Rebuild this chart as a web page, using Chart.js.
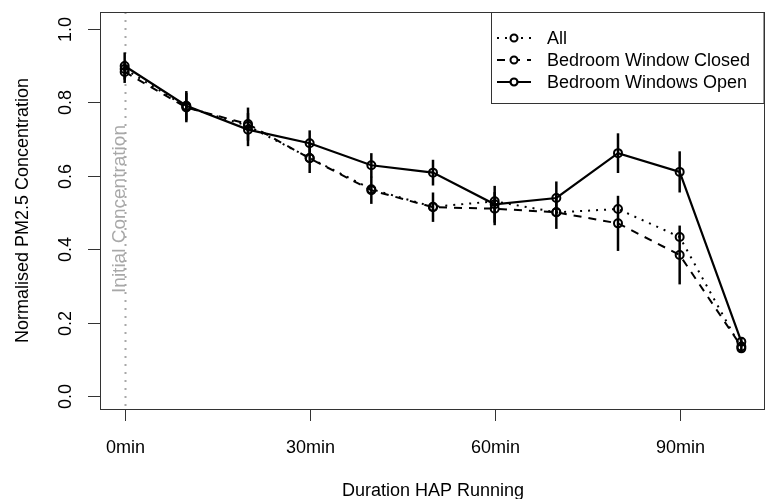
<!DOCTYPE html>
<html lang="en">
<head>
  <meta charset="UTF-8">
  <title>PM2.5 decay</title>
  <script src="https://cdn.jsdelivr.net/npm/chart.js"></script>
  <style>
    html, body { margin: 0; padding: 0; background: #fff; }
    #wrap { width: 766px; height: 499px; }
  </style>
</head>
<body>
  <div id="wrap"><canvas id="grafico" width="766" height="499"></canvas></div>

  <script>
    // minutes since the HAP was switched on
    const minutes = [0, 10, 20, 30, 40, 50, 60, 70, 80, 90, 100];

    const allValues    = [0.890, 0.787, 0.735, 0.648, 0.563, 0.515, 0.530, 0.500, 0.509, 0.433, 0.130];
    const closedValues = [0.882, 0.785, 0.740, 0.647, 0.560, 0.514, 0.510, 0.500, 0.470, 0.384, 0.135];
    const openValues   = [0.898, 0.790, 0.725, 0.688, 0.628, 0.608, 0.522, 0.539, 0.661, 0.610, 0.148];

    // half length of the error bars
    const closedErr = [0.030, 0.040, 0.045, 0.040, 0.037, 0.040, 0.045, 0.045, 0.075, 0.080, 0.015];
    const openErr   = [0.037, 0.040, 0.045, 0.035, 0.033, 0.035, 0.050, 0.045, 0.054, 0.056, 0.012];

    const xTicks = [0, 30, 60, 90];
    const xTickLabels = ["0min", "30min", "60min", "90min"];
    const yTicks = [0, 0.2, 0.4, 0.6, 0.8, 1.0];
    const yTickLabels = ["0.0", "0.2", "0.4", "0.6", "0.8", "1.0"];

    const seriesNames = ["All", "Bedroom Window Closed", "Bedroom Windows Open"];

    const FONT = '18px "Liberation Sans", Arial, sans-serif';

    function toPoints(vals) {
      return minutes.map((m, i) => ({ x: m, y: vals[i] }));
    }

    const styles = [
      { dash: [2, 6], width: 2 },
      { dash: [8, 7], width: 2 },
      { dash: [], width: 2.2 }
    ];

    const rPlot = {
      id: "rPlot",
      beforeDatasetsDraw(chart) {
        const ctx = chart.ctx;
        const xs = chart.scales.x, ys = chart.scales.y;
        const area = chart.chartArea;

        // initial concentration marker
        const x0 = Math.round(xs.getPixelForValue(0)) + 0.5;
        ctx.save();
        ctx.strokeStyle = "#a8a8a8";
        ctx.lineWidth = 2;
        ctx.setLineDash([2, 6]);
        ctx.beginPath();
        ctx.moveTo(x0, area.top);
        ctx.lineTo(x0, area.bottom);
        ctx.stroke();
        ctx.setLineDash([]);
        ctx.fillStyle = "#a8a8a8";
        ctx.font = '19px "Liberation Sans", Arial, sans-serif';
        ctx.translate(x0 - 6, 209);
        ctx.rotate(-Math.PI / 2);
        ctx.textAlign = "center";
        ctx.textBaseline = "middle";
        ctx.fillText("Initial Concentration", 0, 0);
        ctx.restore();

        // error bars
        ctx.save();
        ctx.strokeStyle = "#000";
        ctx.lineWidth = 2.5;
        [[closedValues, closedErr], [openValues, openErr]].forEach(([vals, err]) => {
          minutes.forEach((m, i) => {
            const px = xs.getPixelForValue(m);
            ctx.beginPath();
            ctx.moveTo(px, ys.getPixelForValue(vals[i] - err[i]));
            ctx.lineTo(px, ys.getPixelForValue(vals[i] + err[i]));
            ctx.stroke();
          });
        });
        ctx.restore();
      },
      afterDraw(chart) {
        const ctx = chart.ctx;
        const xs = chart.scales.x, ys = chart.scales.y;
        const a = chart.chartArea;
        ctx.save();
        ctx.strokeStyle = "#333";
        ctx.lineWidth = 1;
        ctx.strokeRect(Math.round(a.left) + 0.5, Math.round(a.top) + 0.5,
          Math.round(a.right - a.left) - 2, Math.round(a.bottom - a.top));

        ctx.fillStyle = "#000";
        ctx.font = FONT;
        ctx.textAlign = "center";
        ctx.textBaseline = "middle";

        // x axis
        xTicks.forEach((v, i) => {
          const px = Math.round(xs.getPixelForValue(v)) + 0.5;
          ctx.beginPath();
          ctx.moveTo(px, a.bottom);
          ctx.lineTo(px, a.bottom + 12);
          ctx.stroke();
          ctx.fillText(xTickLabels[i], px, 448);
        });
        ctx.fillText("Duration HAP Running", (a.left + a.right) / 2, 491);

        // y axis
        yTicks.forEach((v, i) => {
          const py = Math.round(ys.getPixelForValue(v)) + 0.5;
          ctx.beginPath();
          ctx.moveTo(a.left - 12, py);
          ctx.lineTo(a.left, py);
          ctx.stroke();
          ctx.save();
          ctx.translate(66, py);
          ctx.rotate(-Math.PI / 2);
          ctx.fillText(yTickLabels[i], 0, 0);
          ctx.restore();
        });
        ctx.save();
        ctx.translate(23, (a.top + a.bottom) / 2);
        ctx.rotate(-Math.PI / 2);
        ctx.fillText("Normalised PM2.5 Concentration", 0, 0);
        ctx.restore();

        // legend
        const lx = 491, ly = Math.round(a.top) + 0.5, lw = Math.round(a.right) - 2.5 - lx, lh = 91;
        ctx.fillStyle = "#fff";
        ctx.fillRect(lx, ly, lw, lh);
        ctx.strokeStyle = "#333";
        ctx.strokeRect(lx + 0.5, ly, lw, lh);
        seriesNames.forEach((name, i) => {
          const cy = 38 + i * 22;
          ctx.strokeStyle = "#000";
          ctx.lineWidth = styles[i].width;
          ctx.setLineDash(styles[i].dash);
          ctx.beginPath();
          ctx.moveTo(497, cy);
          ctx.lineTo(531, cy);
          ctx.stroke();
          ctx.setLineDash([]);
          ctx.fillStyle = "#fff";
          ctx.beginPath();
          ctx.arc(514, cy, 3.5, 0, Math.PI * 2);
          ctx.fill();
          ctx.stroke();
          ctx.fillStyle = "#000";
          ctx.textAlign = "left";
          ctx.fillText(name, 547, cy + 1);
        });
        ctx.restore();
      }
    };

    const datasets = [allValues, closedValues, openValues].map((vals, i) => ({
      label: seriesNames[i],
      data: toPoints(vals),
      borderColor: "#000",
      borderWidth: styles[i].width,
      borderDash: styles[i].dash,
      pointRadius: 4,
      pointBorderWidth: 2,
      pointBorderColor: "#000",
      pointBackgroundColor: "rgba(0,0,0,0)",
      tension: 0,
      fill: false
    }));

    new Chart(document.getElementById("grafico"), {
      type: "line",
      data: { datasets },
      plugins: [rPlot],
      options: {
        responsive: false,
        animation: false,
        devicePixelRatio: 1,
        layout: { autoPadding: false, padding: { left: 0, top: 12, right: 0, bottom: 0 } },
        plugins: { legend: { display: false }, tooltip: { enabled: false } },
        scales: {
          x: {
            type: "linear", min: -4, max: 104,
            grid: { display: false }, border: { display: false },
            ticks: { display: false },
            afterFit(s) { s.height = 90; s.paddingRight = 0; s.paddingLeft = 0; }
          },
          y: {
            min: -0.035, max: 1.045,
            grid: { display: false }, border: { display: false },
            ticks: { display: false },
            afterFit(s) { s.width = 100; s.paddingTop = 0; s.paddingBottom = 0; }
          }
        }
      }
    });
  </script>
</body>
</html>
